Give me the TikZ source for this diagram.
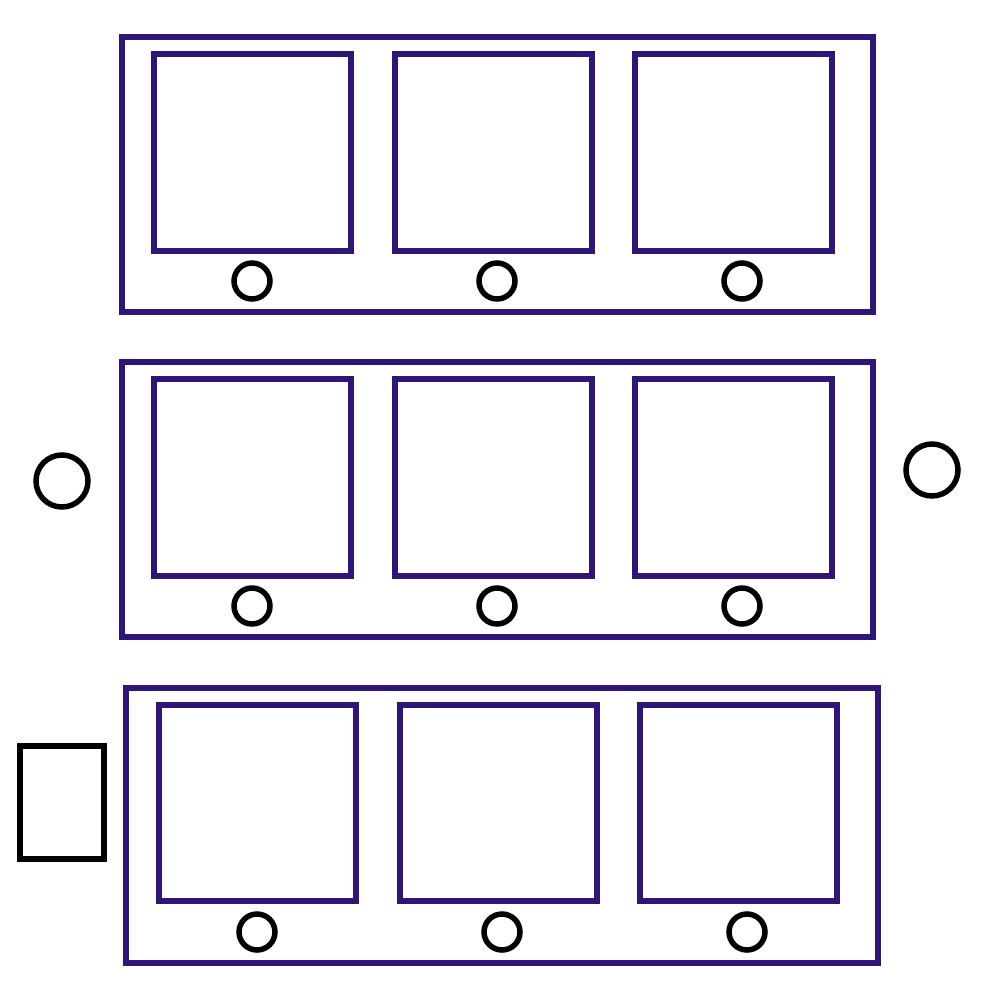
\documentclass[tikz,border=0pt]{standalone}
\definecolor{frame}{HTML}{2E1577}
\tikzset{
  panel/.style={draw=frame, line width=0.055cm},
  tile/.style={draw=frame, line width=0.055cm},
  knob/.style={draw=black, line width=0.055cm},
}
\begin{document}
\begin{tikzpicture}[x=0.01cm,y=-0.01cm]
\useasboundingbox (0,0) rectangle (1000,1000);
% row 1
\draw[panel] (122,37) rectangle (873,312);
\foreach \x in {154,395,635}{\draw[tile] (\x,54) rectangle (\x+197,251);}
\foreach \x in {252,497,742}{\draw[knob] (\x,281) circle (18);}
% row 2
\draw[panel] (122,362) rectangle (873,637);
\foreach \x in {154,395,635}{\draw[tile] (\x,379) rectangle (\x+197,576);}
\foreach \x in {252,497,742}{\draw[knob] (\x,606) circle (18);}
\draw[knob] (62,481) circle (26);
\draw[knob] (932,470) circle (26);
% row 3
\draw[panel] (126,688) rectangle (878,963);
\foreach \x in {159,400,640}{\draw[tile] (\x,705) rectangle (\x+197,901);}
\foreach \x in {257,502,747}{\draw[knob] (\x,932) circle (18);}
\draw[knob] (20,746) rectangle (104,859);
\end{tikzpicture}
\end{document}
